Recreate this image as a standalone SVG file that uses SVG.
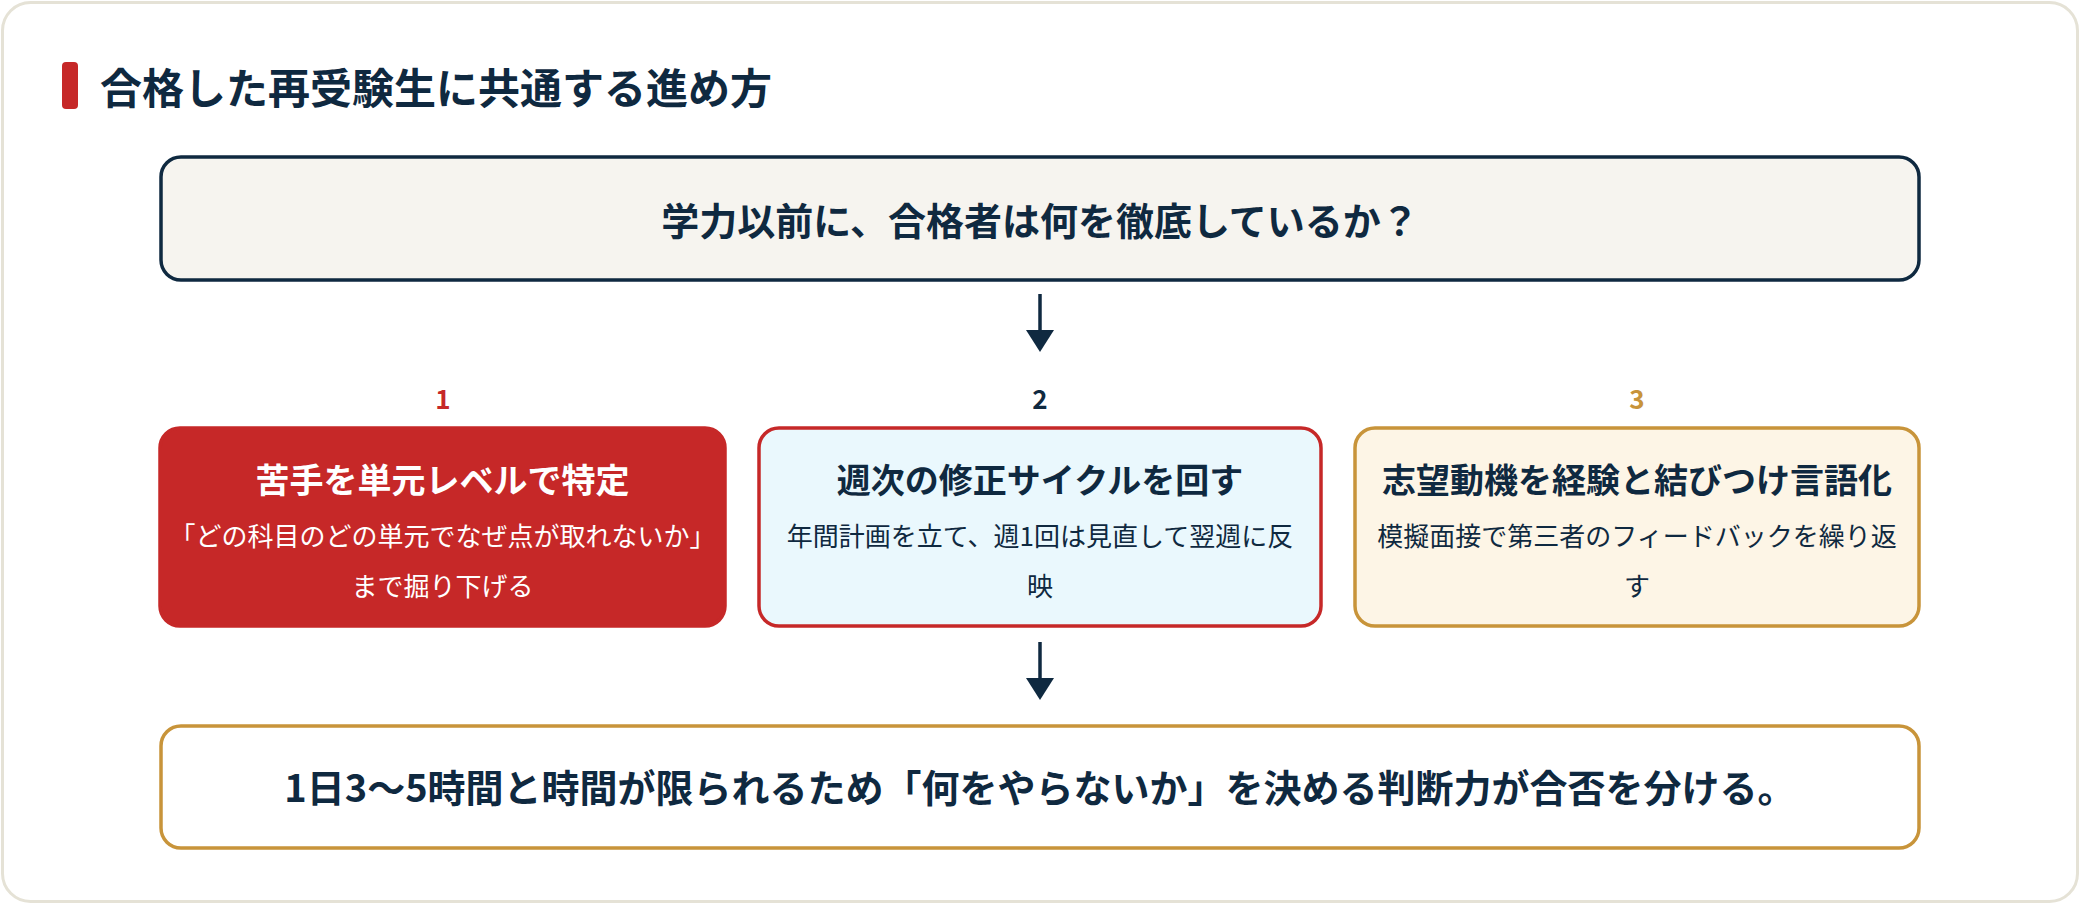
<svg xmlns="http://www.w3.org/2000/svg" width="2080" height="904" viewBox="0 0 2080 904">
<defs>
<style>
text{font-family:"Noto Sans CJK JP","Noto Sans",sans-serif;}
.navy{fill:#0f2940;}
.b{font-weight:700;}
.hd{font-size:38px;font-weight:700;fill:#0f2940;text-anchor:middle;}
.num{font-size:26px;font-weight:700;text-anchor:middle;}
.ttl{font-size:34px;font-weight:700;text-anchor:middle;}
.sub{font-size:26px;font-weight:400;text-anchor:middle;}
.conn{stroke:#0f2940;stroke-width:3.5;fill:none;}
.head{fill:#0f2940;}
</style>
</defs>
<rect x="0" y="0" width="2080" height="904" fill="#ffffff"/>
<rect id="card" x="2.5" y="2.5" width="2075" height="899" rx="28" fill="#ffffff" stroke="#e5e2d6" stroke-width="3"/>
<g id="title">
<rect x="62" y="62" width="16" height="47" rx="4" fill="#c62828"/>
<text x="100" y="104" font-size="42" class="b navy">合格した再受験生に共通する進め方</text>
</g>
<g id="question">
<rect x="161" y="157" width="1758" height="123" rx="20" fill="#f6f4ef" stroke="#0f2940" stroke-width="3.5"/>
<text x="1040" y="235" class="hd">学力以前に、合格者は何を徹底しているか？</text>
</g>
<g id="connectors">
<path class="conn" d="M1040,294 V331"/>
<path class="head" d="M1026,330 L1054,330 L1040,352 Z"/>
<path class="conn" d="M1040,642 V679"/>
<path class="head" d="M1026,678 L1054,678 L1040,700 Z"/>
</g>
<g id="step1">
<text x="443" y="409" class="num" fill="#c62828">1</text>
<rect x="160" y="428" width="565" height="198" rx="20" fill="#c62828" stroke="#c62828" stroke-width="3.5"/>
<text x="442.5" y="493" class="ttl" fill="#ffffff">苦手を単元レベルで特定</text>
<text x="442.5" y="546" class="sub" fill="#ffffff">「どの科目のどの単元でなぜ点が取れないか」</text>
<text x="442.5" y="596" class="sub" fill="#ffffff">まで掘り下げる</text>
</g>
<g id="step2">
<text x="1040" y="409" class="num" fill="#0f2940">2</text>
<rect x="759" y="428" width="562" height="198" rx="20" fill="#eaf8fd" stroke="#c62828" stroke-width="3.5"/>
<text x="1040" y="493" class="ttl" fill="#0f2940">週次の修正サイクルを回す</text>
<text x="1040" y="546" class="sub" fill="#0f2940">年間計画を立て、週1回は見直して翌週に反</text>
<text x="1040" y="596" class="sub" fill="#0f2940">映</text>
</g>
<g id="step3">
<text x="1637" y="409" class="num" fill="#c8943a">3</text>
<rect x="1355" y="428" width="564" height="198" rx="20" fill="#fdf5e6" stroke="#c8943a" stroke-width="3.5"/>
<text x="1637" y="493" class="ttl" fill="#0f2940">志望動機を経験と結びつけ言語化</text>
<text x="1637" y="546" class="sub" fill="#0f2940">模擬面接で第三者のフィードバックを繰り返</text>
<text x="1637" y="596" class="sub" fill="#0f2940">す</text>
</g>
<g id="conclusion">
<rect x="161" y="726" width="1758" height="122" rx="20" fill="#ffffff" stroke="#c8943a" stroke-width="3.5"/>
<text x="1040" y="802" class="hd">1日3〜5時間と時間が限られるため「何をやらないか」を決める判断力が合否を分ける。</text>
</g>
</svg>
